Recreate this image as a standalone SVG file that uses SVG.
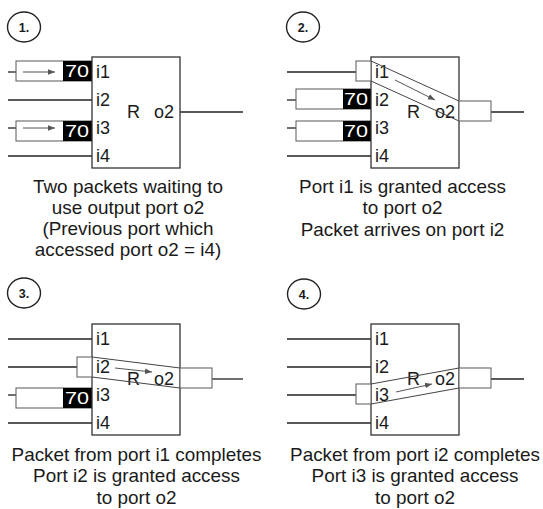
<svg xmlns="http://www.w3.org/2000/svg" width="543" height="509" viewBox="0 0 543 509">
<style>
text{font-family:"Liberation Sans",Arial,sans-serif;fill:#1a1a1a}
.box{fill:#fff;stroke:#333;stroke-width:1.3}
.wire{stroke:#222;stroke-width:1.3;fill:none}
.buf{fill:#fff;stroke:#666;stroke-width:1.1}
.blk{fill:#000}
.band{stroke:#444;stroke-width:1;fill:none}
.arr{stroke:#555;stroke-width:1;fill:none;marker-end:url(#ah)}
.lbl{font-size:18px}
.num{font-size:16.5px;fill:#fff}
.cap{font-size:17.5px;text-anchor:middle}
.step{fill:#fff;stroke:#222;stroke-width:1.4}
.stept{font-size:12.5px;font-weight:bold;text-anchor:middle}
</style>
<defs>
<marker id="ah" viewBox="0 0 10 10" refX="10" refY="5" markerWidth="7" markerHeight="7" markerUnits="userSpaceOnUse" orient="auto">
<path d="M0,1 L10,5 L0,9 Z" fill="#555"/>
</marker>
</defs>

<!-- Panel 1 -->
<g id="panel1">
<g id="step1"><ellipse class="step" cx="24" cy="27" rx="16.5" ry="15"/><text class="stept" x="24" y="31.5">1.</text></g>
<g id="p1-wires">
<line class="wire" x1="8" y1="72" x2="16" y2="72"/>
<line class="wire" x1="8" y1="100" x2="92" y2="100"/>
<line class="wire" x1="8" y1="128" x2="16" y2="128"/>
<line class="wire" x1="8" y1="156" x2="92" y2="156"/>
<line class="wire" x1="180" y1="112" x2="243" y2="112"/>
</g>
<g id="p1-buf1"><rect class="buf" x="16" y="61" width="76" height="20"/><rect class="blk" x="63" y="61" width="29" height="20"/><text class="num" x="65" y="77" textLength="24" lengthAdjust="spacingAndGlyphs">70</text><line class="arr" x1="23" y1="72" x2="55" y2="72"/></g>
<g id="p1-buf3"><rect class="buf" x="16" y="121" width="76" height="20"/><rect class="blk" x="63" y="121" width="29" height="20"/><text class="num" x="65" y="137" textLength="24" lengthAdjust="spacingAndGlyphs">70</text><line class="arr" x1="23" y1="128" x2="55" y2="128"/></g>
<g id="p1-router"><rect class="box" x="92" y="57" width="88" height="111"/>
<text class="lbl" x="96" y="77.5">i1</text><text class="lbl" x="96" y="106">i2</text><text class="lbl" x="96" y="134">i3</text><text class="lbl" x="96" y="162">i4</text>
<text class="lbl" x="127" y="117.5">R</text><text class="lbl" x="154" y="117.5">o2</text></g>
<text class="cap" transform="translate(128,0) scale(1.08,1)"><tspan x="0" y="193.5">Two packets waiting to</tspan><tspan x="0" y="214.5">use output port o2</tspan><tspan x="0" y="235">(Previous port which</tspan><tspan x="0" y="256">accessed port o2 = i4)</tspan></text>
</g>

<!-- Panel 2 -->
<g id="panel2">
<g id="step2"><ellipse class="step" cx="303" cy="27" rx="16.5" ry="15"/><text class="stept" x="303" y="31.5">2.</text></g>
<g id="p2-wires">
<line class="wire" x1="287" y1="72" x2="356" y2="72"/>
<line class="wire" x1="287" y1="100" x2="296" y2="100"/>
<line class="wire" x1="287" y1="128" x2="296" y2="128"/>
<line class="wire" x1="287" y1="156" x2="371" y2="156"/>
<line class="wire" x1="491" y1="112" x2="524" y2="112"/>
</g>
<g id="p2-buf2"><rect class="buf" x="296" y="89" width="75" height="20"/><rect class="blk" x="343" y="89" width="28" height="20"/><text class="num" x="344" y="105" textLength="24" lengthAdjust="spacingAndGlyphs">70</text></g>
<g id="p2-buf3"><rect class="buf" x="296" y="121" width="75" height="20"/><rect class="blk" x="343" y="121" width="28" height="20"/><text class="num" x="344" y="137" textLength="24" lengthAdjust="spacingAndGlyphs">70</text></g>
<g id="p2-router"><rect class="box" x="371" y="57" width="88" height="111"/>
<text class="lbl" x="375" y="77.5">i1</text><text class="lbl" x="375" y="106">i2</text><text class="lbl" x="375" y="134">i3</text><text class="lbl" x="375" y="162">i4</text>
<text class="lbl" x="407" y="117.5">R</text><text class="lbl" x="435" y="117.5">o2</text></g>
<g id="p2-flow"><rect class="buf" x="356" y="61" width="15" height="20"/>
<line class="band" x1="371" y1="61" x2="459" y2="101"/><line class="band" x1="371" y1="81" x2="459" y2="121"/>
<rect class="buf" x="459" y="101" width="32" height="20"/>
<line class="arr" x1="395" y1="80" x2="435" y2="100"/></g>
<text class="cap" transform="translate(402.5,0) scale(1.08,1)"><tspan x="0" y="193">Port i1 is granted access</tspan><tspan x="0" y="214.5">to port o2</tspan><tspan x="0" y="236">Packet arrives on port i2</tspan></text>
</g>

<!-- Panel 3 -->
<g id="panel3">
<g id="step3"><ellipse class="step" cx="24" cy="293" rx="16.5" ry="15"/><text class="stept" x="24" y="297.5">3.</text></g>
<g id="p3-wires">
<line class="wire" x1="8" y1="339" x2="92" y2="339"/>
<line class="wire" x1="8" y1="367" x2="77" y2="367"/>
<line class="wire" x1="8" y1="395" x2="16" y2="395"/>
<line class="wire" x1="8" y1="423" x2="92" y2="423"/>
<line class="wire" x1="212" y1="379" x2="243" y2="379"/>
</g>
<g id="p3-buf3"><rect class="buf" x="16" y="388" width="76" height="20"/><rect class="blk" x="63" y="388" width="29" height="20"/><text class="num" x="65" y="404" textLength="24" lengthAdjust="spacingAndGlyphs">70</text></g>
<g id="p3-router"><rect class="box" x="92" y="324" width="88" height="111"/>
<text class="lbl" x="96" y="345">i1</text><text class="lbl" x="96" y="373">i2</text><text class="lbl" x="96" y="401">i3</text><text class="lbl" x="96" y="429">i4</text>
<text class="lbl" x="127" y="385">R</text><text class="lbl" x="154" y="385">o2</text></g>
<g id="p3-flow"><rect class="buf" x="77" y="357" width="15" height="20"/>
<line class="band" x1="92" y1="357" x2="180" y2="368"/><line class="band" x1="92" y1="377" x2="180" y2="388"/>
<rect class="buf" x="180" y="368" width="32" height="20"/>
<line class="arr" x1="115" y1="368" x2="152" y2="372"/></g>
<text class="cap" transform="translate(136.5,0) scale(1.08,1)"><tspan x="0" y="461">Packet from port i1 completes</tspan><tspan x="0" y="482.5">Port i2 is granted access</tspan><tspan x="0" y="504">to port o2</tspan></text>
</g>

<!-- Panel 4 -->
<g id="panel4">
<g id="step4"><ellipse class="step" cx="304" cy="294" rx="16.5" ry="15"/><text class="stept" x="304" y="298.5">4.</text></g>
<g id="p4-wires">
<line class="wire" x1="287" y1="339" x2="371" y2="339"/>
<line class="wire" x1="287" y1="367" x2="371" y2="367"/>
<line class="wire" x1="287" y1="395" x2="356" y2="395"/>
<line class="wire" x1="287" y1="423" x2="371" y2="423"/>
<line class="wire" x1="491" y1="379" x2="524" y2="379"/>
</g>
<g id="p4-router"><rect class="box" x="371" y="324" width="88" height="111"/>
<text class="lbl" x="375" y="345">i1</text><text class="lbl" x="375" y="373">i2</text><text class="lbl" x="375" y="401">i3</text><text class="lbl" x="375" y="429">i4</text>
<text class="lbl" x="407" y="385">R</text><text class="lbl" x="435" y="385">o2</text></g>
<g id="p4-flow"><rect class="buf" x="356" y="384" width="15" height="20"/>
<line class="band" x1="371" y1="384" x2="459" y2="368"/><line class="band" x1="371" y1="404" x2="459" y2="388"/>
<rect class="buf" x="459" y="368" width="32" height="20"/>
<line class="arr" x1="396" y1="392" x2="432" y2="384"/></g>
<text class="cap" transform="translate(415,0) scale(1.08,1)"><tspan x="0" y="461">Packet from port i2 completes</tspan><tspan x="0" y="482.5">Port i3 is granted access</tspan><tspan x="0" y="504">to port o2</tspan></text>
</g>
</svg>
